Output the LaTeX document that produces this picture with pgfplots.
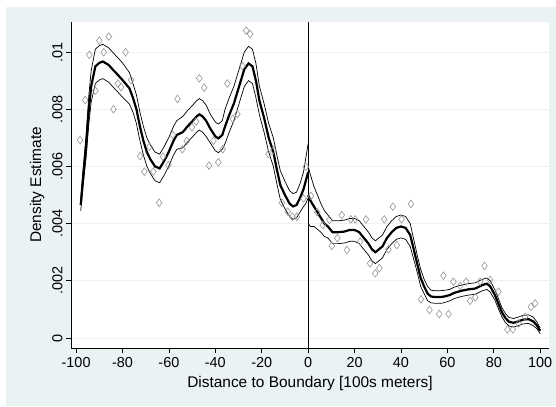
\documentclass[border=0pt]{standalone}
\usepackage{pgfplots}
\usepackage{pgfplotstable}
\pgfplotsset{compat=1.18}
\usepackage{fontspec}
\setmainfont{Liberation Sans}

\definecolor{stbg}{RGB}{234,242,243}
\definecolor{stgrid}{RGB}{234,242,243}
\definecolor{mkgray}{RGB}{150,150,150}

% kernel density fit with 95% band, left of the boundary
\pgfplotstableread{
x c lo hi
-98 0.00465 0.00445 0.00485
-97 0.00560 0.00530 0.00590
-95.7 0.00670 0.00630 0.00710
-94.5 0.00800 0.00750 0.00850
-93.5 0.00880 0.00825 0.00935
-91.7 0.00950 0.00890 0.01010
-90 0.00962 0.00902 0.01022
-88.5 0.00967 0.00907 0.01027
-86 0.00955 0.00895 0.01015
-84 0.00937 0.00877 0.00997
-82 0.00920 0.00860 0.00980
-80 0.00902 0.00842 0.00962
-77 0.00873 0.00818 0.00928
-75.5 0.00840 0.00790 0.00890
-74 0.00800 0.00750 0.00850
-72.5 0.00740 0.00690 0.00790
-71 0.00690 0.00640 0.00740
-69.5 0.00650 0.00600 0.00700
-68 0.00625 0.00575 0.00675
-66 0.00600 0.00550 0.00650
-64 0.00593 0.00543 0.00643
-62 0.00620 0.00570 0.00670
-60 0.00652 0.00602 0.00702
-58 0.00690 0.00640 0.00740
-56.6 0.00710 0.00660 0.00760
-54 0.00720 0.00665 0.00775
-52 0.00740 0.00685 0.00795
-50 0.00757 0.00702 0.00812
-48 0.00775 0.00720 0.00830
-46.9 0.00782 0.00727 0.00837
-45.5 0.00775 0.00720 0.00830
-44 0.00760 0.00705 0.00815
-42 0.00730 0.00680 0.00780
-40 0.00705 0.00655 0.00755
-38.7 0.00698 0.00648 0.00748
-37 0.00710 0.00660 0.00760
-35.8 0.00740 0.00680 0.00800
-34 0.00780 0.00720 0.00840
-32 0.00820 0.00760 0.00880
-30.5 0.00860 0.00800 0.00920
-29 0.00900 0.00840 0.00960
-27.5 0.00940 0.00880 0.01000
-25.7 0.00960 0.00900 0.01020
-24 0.00950 0.00890 0.01010
-22.5 0.00900 0.00840 0.00960
-21 0.00830 0.00780 0.00880
-19 0.00770 0.00720 0.00820
-17 0.00700 0.00650 0.00750
-15 0.00650 0.00600 0.00700
-13.5 0.00590 0.00540 0.00640
-12 0.00535 0.00485 0.00585
-10 0.00500 0.00452 0.00548
-8 0.00470 0.00425 0.00515
-6.5 0.00460 0.00415 0.00505
-5 0.00465 0.00420 0.00510
-3.5 0.00490 0.00440 0.00540
-2 0.00520 0.00460 0.00580
-1 0.00550 0.00470 0.00630
0 0.00580 0.00490 0.00680
}\leftfit

% kernel density fit with 95% band, right of the boundary
\pgfplotstableread{
x c lo hi
0 0.00500 0.00400 0.00600
1 0.00480 0.00390 0.00570
2.5 0.00460 0.00390 0.00530
4 0.00440 0.00380 0.00500
5.5 0.00420 0.00370 0.00470
7 0.00400 0.00355 0.00445
8.5 0.00390 0.00350 0.00430
10.5 0.00370 0.00330 0.00410
13 0.00370 0.00330 0.00410
15.5 0.00372 0.00332 0.00412
18 0.00378 0.00338 0.00418
20 0.00378 0.00338 0.00418
22 0.00370 0.00330 0.00410
24 0.00350 0.00310 0.00390
26 0.00330 0.00290 0.00370
27.5 0.00310 0.00270 0.00350
29 0.00300 0.00260 0.00340
30.5 0.00310 0.00270 0.00350
32 0.00320 0.00280 0.00360
34 0.00350 0.00310 0.00390
36 0.00370 0.00330 0.00410
38 0.00385 0.00345 0.00425
40 0.00390 0.00350 0.00430
42 0.00385 0.00345 0.00425
44 0.00360 0.00320 0.00400
45.5 0.00310 0.00275 0.00345
47 0.00260 0.00230 0.00290
48.5 0.00210 0.00180 0.00240
50 0.00180 0.00155 0.00205
51.5 0.00155 0.00130 0.00180
53 0.00145 0.00123 0.00167
55 0.00143 0.00121 0.00165
58 0.00144 0.00122 0.00166
61 0.00150 0.00130 0.00170
63 0.00158 0.00138 0.00178
66 0.00165 0.00145 0.00185
69 0.00170 0.00150 0.00190
72 0.00173 0.00153 0.00193
75 0.00185 0.00165 0.00205
77 0.00190 0.00170 0.00210
78.5 0.00180 0.00160 0.00200
80.5 0.00150 0.00132 0.00168
82 0.00120 0.00102 0.00138
83.5 0.00090 0.00074 0.00106
85 0.00070 0.00054 0.00086
86.5 0.00057 0.00042 0.00072
88.5 0.00053 0.00038 0.00068
90.5 0.00058 0.00043 0.00073
92.5 0.00064 0.00049 0.00079
95 0.00066 0.00051 0.00081
97 0.00058 0.00043 0.00073
98.5 0.00045 0.00033 0.00057
100 0.00025 0.00015 0.00035
}\rightfit

% binned densities
\pgfplotstableread{
x y
-98.3 0.00692
-96.1 0.00832
-94.3 0.00990
-91.7 0.00865
-90.0 0.01040
-88.1 0.00999
-85.9 0.01054
-83.9 0.00800
-82.0 0.00890
-80.6 0.00877
-78.7 0.00999
-76.3 0.00902
-72.4 0.00636
-70.6 0.00582
-68.4 0.00669
-66.7 0.00582
-64.2 0.00473
-62.6 0.00634
-60.2 0.00605
-58.3 0.00710
-56.3 0.00836
-54.2 0.00660
-52.3 0.00689
-50.1 0.00737
-48.3 0.00757
-46.9 0.00908
-44.8 0.00875
-42.7 0.00603
-40.8 0.00690
-38.7 0.00614
-36.8 0.00660
-34.8 0.00890
-32.5 0.00766
-30.5 0.00783
-28.3 0.00951
-26.7 0.01075
-25.0 0.01063
-17.1 0.00643
-15.0 0.00657
-11.3 0.00473
-8.8 0.00442
-6.8 0.00424
-4.9 0.00424
-2.0 0.00488
-1.0 0.00599
1.2 0.00497
3.9 0.00440
6.3 0.00395
9.2 0.00413
10.2 0.00322
12.6 0.00349
14.5 0.00430
16.7 0.00308
18.4 0.00415
20.3 0.00415
22.4 0.00337
24.9 0.00415
26.7 0.00261
28.9 0.00226
30.7 0.00244
32.8 0.00415
34.6 0.00310
36.5 0.00459
38.2 0.00325
40.3 0.00415
44.3 0.00469
48.6 0.00135
52.3 0.00098
56.5 0.00084
58.3 0.00218
60.5 0.00084
62.6 0.00197
65.5 0.00182
68.1 0.00197
69.8 0.00130
72.0 0.00142
74.1 0.00197
76.0 0.00252
78.4 0.00203
82.0 0.00162
85.9 0.00030
88.2 0.00030
90.7 0.00051
93.5 0.00074
96.0 0.00109
97.8 0.00121
}\bins

\begin{document}
\begin{tikzpicture}[x=1bp,y=1bp]
\useasboundingbox (-71,-58) rectangle (485,348);
\fill[white] (-71,-58) rectangle (485,348);
\fill[stbg] (-65,-58) rectangle (485,341);
\begin{axis}[
  at={(0,0)}, anchor=south west,
  scale only axis,
  width=478bp, height=326bp,
  xmin=-102.2, xmax=103.8,
  ymin=-0.00035, ymax=0.01105,
  axis background/.style={fill=white},
  axis x line*=bottom, axis y line*=left,
  axis line style={black, line width=0.9bp, -},
  tick align=outside,
  major tick length=5bp,
  tick style={black, line width=0.8bp},
  xtick={-100,-80,...,100},
  xticklabels={-100,-80,-60,-40,-20,0,20,40,60,80,100},
  ytick={0,0.002,0.004,0.006,0.008,0.01},
  yticklabels={0,.002,.004,.006,.008,.01},
  scaled y ticks=false,
  ymajorgrids,
  grid style={stgrid, line width=0.9bp},
  ticklabel style={font=\fontsize{14.5}{16}\selectfont},
  yticklabel style={rotate=90, anchor=south},
  xticklabel style={yshift=-1bp},
  xlabel={Distance to Boundary [100s meters]},
  ylabel={Density Estimate},
  label style={font=\fontsize{15.5}{17}\selectfont},
  xlabel style={yshift=-2bp},
  ylabel style={yshift=1bp},
  clip=true,
]
\addplot[only marks, mark=diamond, mark size=3.8bp,
  mark options={draw=mkgray, fill=white, line width=0.6bp}]
  table[x=x, y=y] {\bins};
\addplot[black, line width=0.9bp] coordinates {(0,-0.00035) (0,0.01105)};
\addplot[black, line width=0.7bp] table[x=x, y=lo] {\leftfit};
\addplot[black, line width=0.7bp] table[x=x, y=hi] {\leftfit};
\addplot[black, line width=2.2bp] table[x=x, y=c] {\leftfit};
\addplot[black, line width=0.7bp] table[x=x, y=lo] {\rightfit};
\addplot[black, line width=0.7bp] table[x=x, y=hi] {\rightfit};
\addplot[black, line width=2.2bp] table[x=x, y=c] {\rightfit};
\end{axis}
\end{tikzpicture}
\end{document}
